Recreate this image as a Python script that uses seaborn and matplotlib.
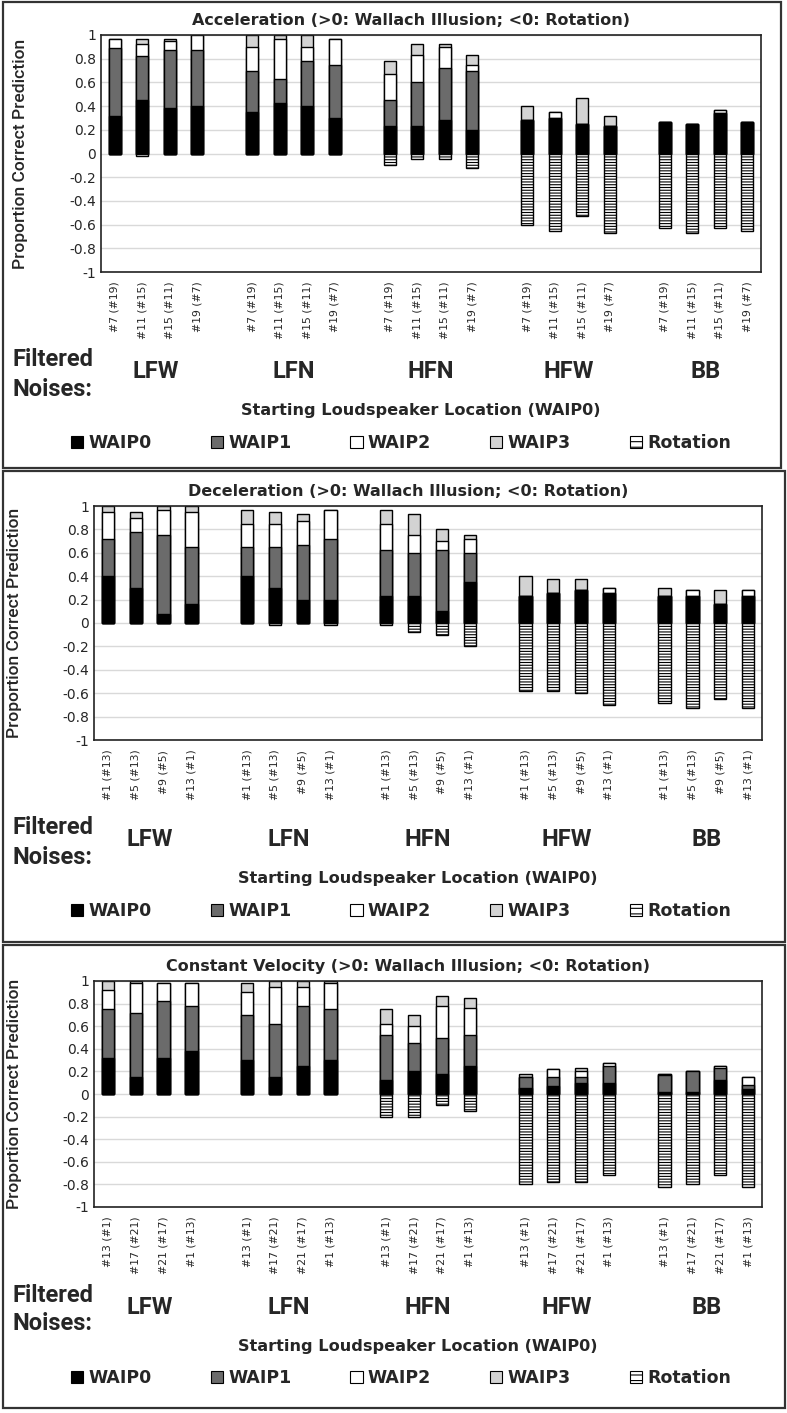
import numpy as np
import pandas as pd
import matplotlib.pyplot as plt
from matplotlib.patches import Patch, Rectangle
import seaborn as sns

groups = ['LFW', 'LFN', 'HFN', 'HFW', 'BB']
series = ['WAIP0', 'WAIP1', 'WAIP2', 'WAIP3', 'Rotation']

# Acceleration
acc_ticks = ['#7 (#19)', '#11 (#15)', '#15 (#11)', '#19 (#7)']
acc_waip0 = [0.32, 0.45, 0.38, 0.40, 0.35, 0.43, 0.40, 0.30, 0.23, 0.23, 0.28, 0.20, 0.28, 0.30, 0.25, 0.23, 0.27, 0.25, 0.34, 0.27]
acc_waip1 = [0.57, 0.37, 0.49, 0.47, 0.35, 0.20, 0.38, 0.45, 0.22, 0.37, 0.44, 0.50, 0.00, 0.00, 0.00, 0.00, 0.00, 0.00, 0.00, 0.00]
acc_waip2 = [0.08, 0.10, 0.08, 0.13, 0.20, 0.34, 0.12, 0.22, 0.22, 0.23, 0.18, 0.05, 0.00, 0.05, 0.00, 0.00, 0.00, 0.00, 0.03, 0.00]
acc_waip3 = [0.00, 0.05, 0.02, 0.00, 0.10, 0.03, 0.10, 0.00, 0.11, 0.09, 0.02, 0.08, 0.12, 0.00, 0.22, 0.09, 0.00, 0.00, 0.00, 0.00]
acc_rot = [0.00, -0.02, 0.00, 0.00, 0.00, 0.00, 0.00, 0.00, -0.10, -0.05, -0.05, -0.12, -0.60, -0.65, -0.53, -0.67, -0.63, -0.67, -0.63, -0.65]

# Deceleration
dec_ticks = ['#1 (#13)', '#5 (#13)', '#9 (#5)', '#13 (#1)']
dec_waip0 = [0.40, 0.30, 0.08, 0.16, 0.40, 0.30, 0.20, 0.20, 0.23, 0.23, 0.10, 0.35, 0.23, 0.26, 0.28, 0.26, 0.23, 0.23, 0.16, 0.23]
dec_waip1 = [0.32, 0.48, 0.67, 0.49, 0.25, 0.35, 0.47, 0.52, 0.39, 0.37, 0.52, 0.25, 0.00, 0.00, 0.00, 0.00, 0.00, 0.00, 0.00, 0.00]
dec_waip2 = [0.23, 0.12, 0.22, 0.30, 0.20, 0.20, 0.20, 0.25, 0.23, 0.15, 0.08, 0.12, 0.00, 0.00, 0.00, 0.04, 0.00, 0.05, 0.00, 0.05]
dec_waip3 = [0.05, 0.05, 0.03, 0.05, 0.12, 0.10, 0.06, 0.00, 0.12, 0.18, 0.10, 0.03, 0.17, 0.12, 0.10, 0.00, 0.07, 0.00, 0.12, 0.00]
dec_rot = [0.00, 0.00, 0.00, 0.00, 0.00, -0.02, 0.00, -0.02, -0.02, -0.08, -0.10, -0.20, -0.58, -0.58, -0.60, -0.70, -0.68, -0.73, -0.65, -0.73]

# Constant velocity
cv_ticks = ['#13 (#1)', '#17 (#21)', '#21 (#17)', '#1 (#13)']
cv_waip0 = [0.32, 0.15, 0.32, 0.38, 0.30, 0.15, 0.25, 0.30, 0.12, 0.20, 0.18, 0.25, 0.05, 0.07, 0.10, 0.10, 0.02, 0.02, 0.12, 0.04]
cv_waip1 = [0.43, 0.57, 0.50, 0.40, 0.40, 0.47, 0.53, 0.45, 0.40, 0.25, 0.32, 0.27, 0.10, 0.08, 0.05, 0.15, 0.15, 0.18, 0.11, 0.04]
cv_waip2 = [0.17, 0.26, 0.16, 0.20, 0.20, 0.33, 0.17, 0.23, 0.10, 0.15, 0.28, 0.24, 0.00, 0.07, 0.05, 0.02, 0.01, 0.00, 0.02, 0.07]
cv_waip3 = [0.08, 0.02, 0.00, 0.00, 0.08, 0.05, 0.05, 0.02, 0.13, 0.10, 0.09, 0.09, 0.03, 0.00, 0.03, 0.00, 0.00, 0.00, 0.00, 0.00]
cv_rot = [0.00, 0.00, 0.00, 0.00, 0.00, 0.00, 0.00, 0.00, -0.20, -0.20, -0.10, -0.15, -0.80, -0.78, -0.78, -0.72, -0.82, -0.80, -0.72, -0.82]

sns.set_style('white')
plt.rcParams['font.family'] = ['DejaVu Sans']
plt.rcParams['hatch.linewidth'] = 0.8
narrow = ['Roboto', 'DejaVu Sans']

colors = ['black', '#6b6b6b', 'white', '#d3d3d3', 'white']
rot_hatch = '------'

W, H = 787, 1413
fig = plt.figure(figsize=(W / 100, H / 100), dpi=100)


def draw_panel(border, axbox, ylab_x, title, ticks, w0, w1, w2, w3, rot):
    # panel frame
    bx0, by0, bx1, by1 = border
    fig.patches.append(Rectangle((bx0 / W, 1 - by1 / H), (bx1 - bx0) / W, (by1 - by0) / H,
                                 transform=fig.transFigure, fill=False,
                                 edgecolor='#333333', lw=1.6))
    l, t, r, b = axbox
    ax = fig.add_axes([l / W, 1 - b / H, (r - l) / W, (b - t) / H])

    keys, order, labels = [], [], []
    for gi, g in enumerate(groups):
        for tk in ticks:
            keys.append(g + ' ' + tk)
            order.append(g + ' ' + tk)
            labels.append(tk)
        if gi < len(groups) - 1:
            order.append('gap' + str(gi))
            labels.append('')

    df = pd.DataFrame({'key': keys, 'WAIP0': w0, 'WAIP1': w1, 'WAIP2': w2,
                       'WAIP3': w3, 'Rotation': rot})
    df['c0'] = df['WAIP0']
    df['c1'] = df['c0'] + df['WAIP1']
    df['c2'] = df['c1'] + df['WAIP2']
    df['c3'] = df['c2'] + df['WAIP3']

    # stacked bars drawn from the tallest layer down
    for col, c in zip(['c3', 'c2', 'c1', 'c0'], [colors[3], colors[2], colors[1], colors[0]]):
        sns.barplot(data=df, x='key', y=col, order=order, color=c, saturation=1,
                    width=0.44, edgecolor='black', linewidth=1.0, errorbar=None, ax=ax)
    sns.barplot(data=df, x='key', y='Rotation', order=order, color='white', saturation=1,
                width=0.44, edgecolor='black', linewidth=1.0, hatch=rot_hatch,
                errorbar=None, ax=ax)

    ax.set_ylim(-1, 1)
    ax.set_xlim(-0.5, len(order) - 0.5)
    yt = np.round(np.arange(-1, 1.01, 0.2), 1)
    ax.set_yticks(yt)
    ax.set_yticklabels(['0' if v == 0 else ('%g' % v) for v in yt], fontsize=10)
    ax.set_xticks(range(len(order)))
    ax.set_xticklabels(labels, rotation=90, fontsize=7.8)
    ax.tick_params(axis='both', length=0)
    ax.tick_params(axis='x', pad=7)
    ax.yaxis.grid(True, color='#d9d9d9', lw=1)
    ax.set_axisbelow(True)
    for s in ax.spines.values():
        s.set_visible(True)
        s.set_color('#222222')
        s.set_linewidth(1.2)
    ax.set_xlabel('')
    ax.set_ylabel('Proportion Correct Prediction', family=narrow, fontsize=12.6,
                  fontweight='medium')
    ax.yaxis.set_label_coords((ylab_x - l) / (r - l), 0.5)
    ax.set_title(title, fontsize=11.5, fontweight='bold', pad=7,
                 x=((l + r) / 2 - 20 - l) / (r - l))

    # labels below the axis
    fig.text(13 / W, 1 - (b + 88) / H, 'Filtered', family=narrow, fontsize=17,
             fontweight='bold', ha='left', va='center')
    fig.text(13 / W, 1 - (b + 117) / H, 'Noises:', family=narrow, fontsize=17,
             fontweight='bold', ha='left', va='center')
    for gi, g in enumerate(groups):
        cx = gi * 5 + 1.5
        ax.annotate(g, xy=(cx, H - (b + 100)), xycoords=('data', 'figure pixels'),
                    ha='center', va='center', family=narrow, fontsize=17,
                    fontweight='bold')
    fig.text(((l + r) / 2 - 10) / W, 1 - (b + 139) / H,
             'Starting Loudspeaker Location (WAIP0)', fontsize=11.6, fontweight='bold',
             ha='center', va='center')

    handles = [Patch(facecolor=c, edgecolor='black', lw=0.8) for c in colors[:4]]
    handles.append(Patch(facecolor='white', edgecolor='black', lw=0.8, hatch='---'))
    fig.legend(handles, series, loc='center', bbox_to_anchor=(401 / W, 1 - (b + 171) / H),
               ncol=5, frameon=False, handlelength=0.7, handleheight=0.7,
               handletextpad=0.3, columnspacing=3.4,
               prop={'weight': 'bold', 'size': 12.5})
    return ax


draw_panel((3, 2, 781, 468), (101, 35, 761, 272), 28,
           'Acceleration (>0: Wallach Illusion; <0: Rotation)',
           acc_ticks, acc_waip0, acc_waip1, acc_waip2, acc_waip3, acc_rot)
draw_panel((3, 471, 785, 942), (94, 506, 762, 740), 22,
           'Deceleration (>0: Wallach Illusion; <0: Rotation)',
           dec_ticks, dec_waip0, dec_waip1, dec_waip2, dec_waip3, dec_rot)
draw_panel((3, 945, 785, 1408), (94, 981, 762, 1207), 22,
           'Constant Velocity (>0: Wallach Illusion; <0: Rotation)',
           cv_ticks, cv_waip0, cv_waip1, cv_waip2, cv_waip3, cv_rot)

fig.savefig('out.png', dpi=100, facecolor='white')
